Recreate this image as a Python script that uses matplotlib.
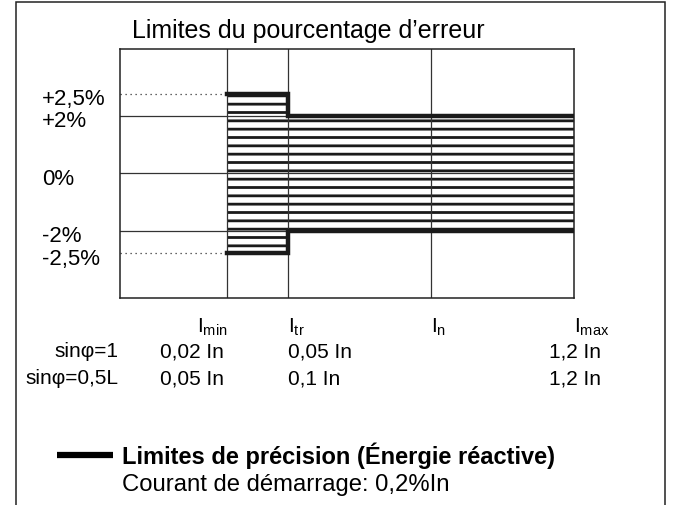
import numpy as np
import matplotlib
matplotlib.use("Agg")
import matplotlib.pyplot as plt
import matplotlib.patches as mpatches
import matplotlib.transforms as mtrans

plt.rcParams['font.family'] = ['Liberation Sans', 'DejaVu Sans']
plt.rcParams['mathtext.fontset'] = 'custom'
plt.rcParams['mathtext.rm'] = 'Liberation Sans'
plt.rcParams['mathtext.it'] = 'Liberation Sans'
plt.rcParams['hatch.linewidth'] = 2.0
plt.rcParams['hatch.color'] = '#1a1a1a'

# data
current_names = [r'I$_{\mathrm{min}}$', r'I$_{\mathrm{tr}}$', r'I$_{\mathrm{n}}$', r'I$_{\mathrm{max}}$']
current_pos = [0.236, 0.37, 0.685, 1.0]      # schematic position on the current axis
row_names = ['sinφ=1', 'sinφ=0,5L']
row_values = [['0,02 In', '0,05 In', '', '1,2 In'],
              ['0,05 In', '0,1 In', '', '1,2 In']]
limit_x = [0.236, 0.37, 1.0]
limit_hi = [2.5, 2.0, 2.0]
limit_lo = [-2.5, -2.0, -2.0]
grid_levels = [2.0, 0.0, -2.0]
dotted_levels = [2.5, -2.5]
ytick_vals = [2.5, 2.0, 0.0, -2.0, -2.5]
ytick_text = ['+2,5%', '+2%', '0%', '-2%', '-2,5%']

# the picture stretches the band between 2 % and 2.5 %
_a = [-10, -2.5, -2, 2, 2.5, 10]
_b = [-10.28, -2.78, -2, 2, 2.78, 10.28]
def fwd(y):
    return np.interp(y, _a, _b)
def inv(y):
    return np.interp(y, _b, _a)

W, H = 673, 506
fig = plt.figure(figsize=(W / 100, H / 100), dpi=100)
ax = fig.add_axes([120 / W, 1 - 299 / H, (574 - 120) / W, (299 - 50) / H])
ax.set_yscale('function', functions=(fwd, inv))
ax.set_xlim(0, 1)
ax.set_ylim(-4.06, 4.05)
ax.set_xticks([])
ax.set_yticks([])
ax.minorticks_off()
for s in ax.spines.values():
    s.set_linewidth(1.1)
    s.set_color('#222222')

# hatched zone
ax.fill_between(limit_x, limit_lo, limit_hi, step='post', facecolor='white',
                edgecolor='#1a1a1a', hatch='--', linewidth=0, zorder=1)

for y in grid_levels:
    ax.axhline(y, color='#333333', lw=0.9, zorder=2)
for y in dotted_levels:
    ax.plot([0, current_pos[0]], [y, y], color='#333333', lw=0.9, ls=(0, (1, 3)), zorder=2)
for x in current_pos[:3]:
    ax.axvline(x, color='#333333', lw=0.9, zorder=2)

# limit lines
ax.step(limit_x, limit_hi, where='post', color='#1a1a1a', lw=3.2, zorder=3,
        solid_joinstyle='miter')
ax.step(limit_x, limit_lo, where='post', color='#1a1a1a', lw=3.2, zorder=3,
        solid_joinstyle='miter')

# y labels
ytr = mtrans.blended_transform_factory(fig.transFigure, ax.transData)
ytr = ytr + mtrans.ScaledTranslation(0, -5 / 100, fig.dpi_scale_trans)
for v, t in zip(ytick_vals, ytick_text):
    fig.text(42 / W, v, t, transform=ytr, ha='left', va='center', fontsize=16)

# current labels and table
xtr = mtrans.blended_transform_factory(ax.transData, fig.transFigure)
aligns = ['right', 'left', 'left', 'left']
for x, n, a in zip(current_pos, current_names, aligns):
    fig.text(x, 1 - 333 / H, n, transform=xtr, ha=a, va='baseline', fontsize=15)

col_x = [160, 288, 430, 549]
row_y = [352, 379]
for r, name in enumerate(row_names):
    fig.text(118 / W, 1 - row_y[r] / H, name, ha='right', va='center', fontsize=15)
    for c, val in enumerate(row_values[r]):
        if val:
            fig.text(col_x[c] / W, 1 - row_y[r] / H, val, ha='left', va='center', fontsize=15)

fig.text(132 / W, 1 - 31 / H, 'Limites du pourcentage d’erreur', ha='left', va='center',
         fontsize=18)

# legend
fig.add_artist(plt.Line2D([57 / W, 113 / W], [1 - 456 / H, 1 - 456 / H], color='black',
                          lw=4.5, solid_capstyle='butt', transform=fig.transFigure))
fig.text(122 / W, 1 - 456 / H, 'Limites de précision (Énergie réactive)', ha='left',
         va='center', fontsize=17, fontweight='bold')
fig.text(122 / W, 1 - 485 / H, 'Courant de démarrage: 0,2%In', ha='left', va='center',
         fontsize=17.2)

# outer frame
fig.add_artist(mpatches.Rectangle((16 / W, -0.05), (665 - 16) / W, 1.05 - 3 / H,
                                  transform=fig.transFigure, fill=False,
                                  edgecolor='#222222', lw=1.1))

fig.savefig('out.png', dpi=100)
